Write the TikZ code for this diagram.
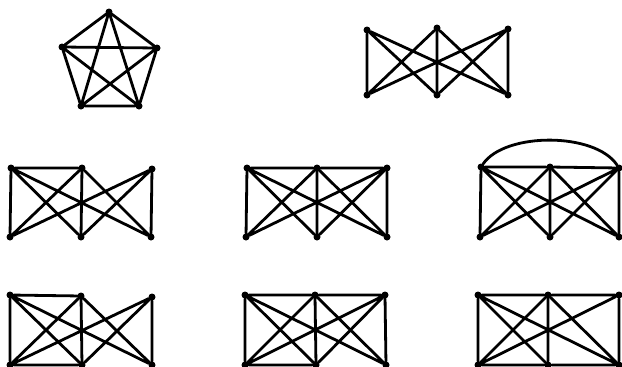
\documentclass[tikz,border=0pt]{standalone}
\begin{document}
\begin{tikzpicture}[x=1pt,y=-1pt,
  vtx/.style={circle,fill=black,inner sep=0pt,minimum size=7pt},
  edge/.style={line width=2.8pt,line cap=round,black}]
\useasboundingbox (0,0) rectangle (622,367);
% Graph 1: K5
\node[vtx] (p1) at (109,12) {};
\node[vtx] (p2) at (62,47) {};
\node[vtx] (p3) at (157,48) {};
\node[vtx] (p4) at (81,106) {};
\node[vtx] (p5) at (139,106) {};
\draw[edge] (p1)--(p2) (p1)--(p3) (p1)--(p4) (p1)--(p5)
  (p2)--(p3) (p2)--(p4) (p2)--(p5) (p3)--(p4) (p3)--(p5) (p4)--(p5);
% Graph 2: K3,3
\node[vtx] (b1) at (367,30) {};
\node[vtx] (b2) at (437,28) {};
\node[vtx] (b3) at (508,29) {};
\node[vtx] (b4) at (367,95) {};
\node[vtx] (b5) at (437,95) {};
\node[vtx] (b6) at (508,95) {};
\draw[edge] (b1)--(b4) (b1)--(b5) (b1)--(b6) (b2)--(b4) (b2)--(b5) (b2)--(b6)
  (b3)--(b4) (b3)--(b5) (b3)--(b6);
% Graph 3
\node[vtx] (c1) at (11,168) {};
\node[vtx] (c2) at (82,168) {};
\node[vtx] (c3) at (152,169) {};
\node[vtx] (c4) at (10,237) {};
\node[vtx] (c5) at (81,237) {};
\node[vtx] (c6) at (151,237) {};
\draw[edge] (c1)--(c4) (c1)--(c5) (c1)--(c6) (c2)--(c4) (c2)--(c5) (c2)--(c6)
  (c3)--(c4) (c3)--(c5) (c3)--(c6) (c1)--(c2);
% Graph 4
\node[vtx] (d1) at (247,168) {};
\node[vtx] (d2) at (317,168) {};
\node[vtx] (d3) at (387,168) {};
\node[vtx] (d4) at (246,237) {};
\node[vtx] (d5) at (317,237) {};
\node[vtx] (d6) at (387,237) {};
\draw[edge] (d1)--(d4) (d1)--(d5) (d1)--(d6) (d2)--(d4) (d2)--(d5) (d2)--(d6)
  (d3)--(d4) (d3)--(d5) (d3)--(d6) (d1)--(d2) (d2)--(d3);
% Graph 5
\node[vtx] (e1) at (481,167) {};
\node[vtx] (e2) at (550,167) {};
\node[vtx] (e3) at (619,168) {};
\node[vtx] (e4) at (480,237) {};
\node[vtx] (e5) at (550,237) {};
\node[vtx] (e6) at (619,237) {};
\draw[edge] (e1)--(e4) (e1)--(e5) (e1)--(e6) (e2)--(e4) (e2)--(e5) (e2)--(e6)
  (e3)--(e4) (e3)--(e5) (e3)--(e6) (e1)--(e2) (e2)--(e3);
\draw[edge] (e1) .. controls (505,132) and (595,132) .. (e3);
% Graph 6
\node[vtx] (f1) at (10,295) {};
\node[vtx] (f2) at (81,296) {};
\node[vtx] (f3) at (152,297) {};
\node[vtx] (f4) at (10,365) {};
\node[vtx] (f5) at (82,365) {};
\node[vtx] (f6) at (152,365) {};
\draw[edge] (f1)--(f4) (f1)--(f5) (f1)--(f6) (f2)--(f4) (f2)--(f5) (f2)--(f6)
  (f3)--(f4) (f3)--(f5) (f3)--(f6) (f1)--(f2) (f4)--(f5);
% Graph 7
\node[vtx] (h1) at (245,295) {};
\node[vtx] (h2) at (315,295) {};
\node[vtx] (h3) at (385,295) {};
\node[vtx] (h4) at (245,365) {};
\node[vtx] (h5) at (316,365) {};
\node[vtx] (h6) at (386,365) {};
\draw[edge] (h1)--(h4) (h1)--(h5) (h1)--(h6) (h2)--(h4) (h2)--(h5) (h2)--(h6)
  (h3)--(h4) (h3)--(h5) (h3)--(h6) (h1)--(h2) (h2)--(h3) (h4)--(h5);
% Graph 8
\node[vtx] (k1) at (478,295) {};
\node[vtx] (k2) at (548,295) {};
\node[vtx] (k3) at (619,295) {};
\node[vtx] (k4) at (478,365) {};
\node[vtx] (k5) at (548,365) {};
\node[vtx] (k6) at (619,365) {};
\draw[edge] (k1)--(k4) (k1)--(k5) (k1)--(k6) (k2)--(k4) (k2)--(k5) (k2)--(k6)
  (k3)--(k4) (k3)--(k6) (k1)--(k2) (k2)--(k3) (k4)--(k5) (k5)--(k6);
\end{tikzpicture}
\end{document}
